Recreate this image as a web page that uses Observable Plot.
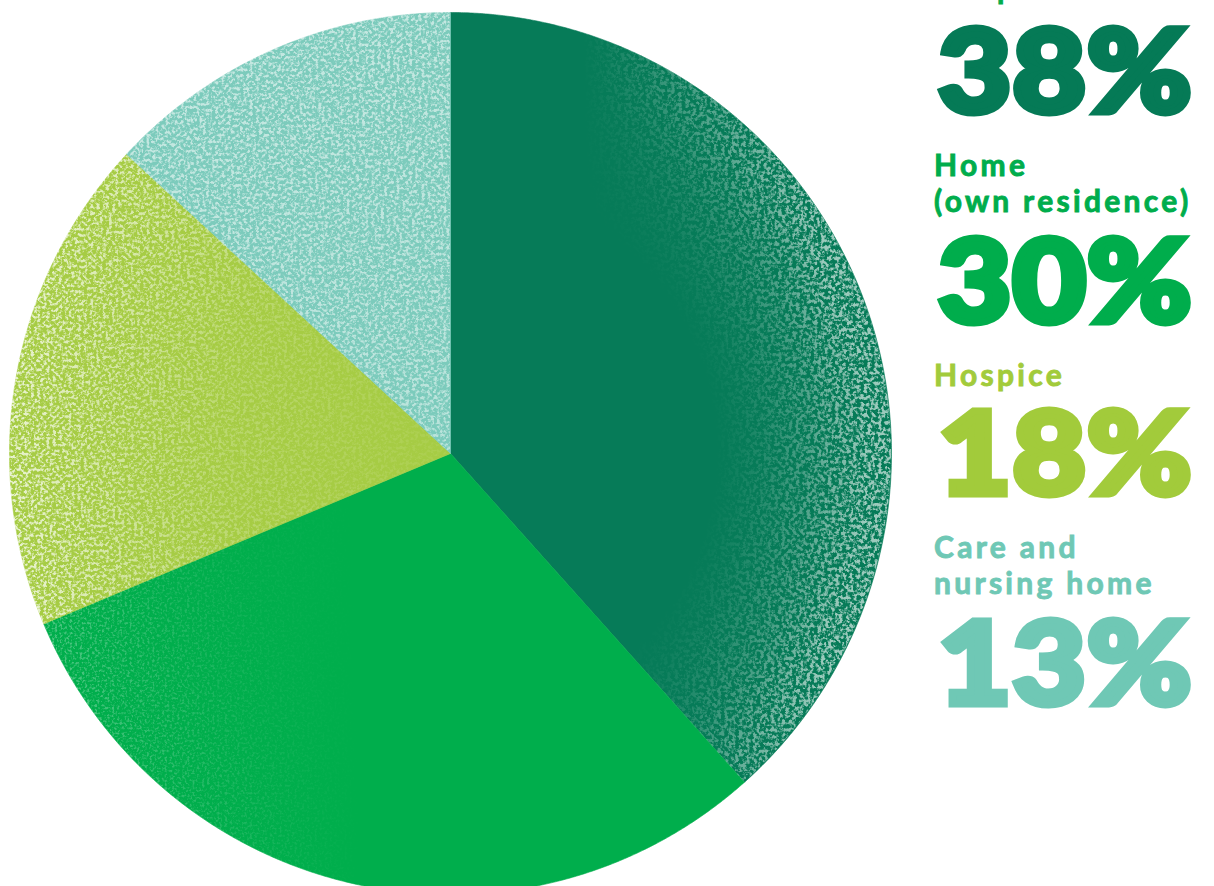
<!DOCTYPE html>
<html>
<head>
<meta charset="utf-8">
<script src="https://cdn.jsdelivr.net/npm/d3@7"></script>
<script src="https://cdn.jsdelivr.net/npm/@observablehq/plot@0.6"></script>
<style>
  html, body { margin: 0; padding: 0; background: #fff; overflow: hidden; }
  #wrap { position: relative; width: 1214px; height: 886px; }
  #chart { position: absolute; left: 0; top: 0; }
  .lbl { position: absolute; left: 934px; font-family: "Lato", "Noto Sans", sans-serif; font-weight: 700; font-size: 30px; line-height: 36px; white-space: nowrap; letter-spacing: 3.3px; -webkit-text-stroke: 0.9px currentColor; }
  .num { position: absolute; left: 938px; font-family: "Lato", "Noto Sans", sans-serif; font-weight: 900; font-size: 115px; line-height: 115px; white-space: nowrap; letter-spacing: 1px; -webkit-text-stroke: 7px currentColor; transform: scaleX(1.1); transform-origin: 0 0; }
</style>
</head>
<body>
<div id="wrap"><div id="chart"></div></div>
<script>
// ---- data ----
const categories = ["Hospital", "Home (own residence)", "Hospice", "Care and nursing home"];
const labelLines = [["Hospital"], ["Home", "(own residence)"], ["Hospice"], ["Care and", "nursing home"]];
const values = [38, 30, 18, 13];
const valueLabels = ["38%", "30%", "18%", "13%"];
const pieColors = ["#067b58", "#00ae4c", "#a6cc44", "#7ccbbc"];
const textColors = ["#057a56", "#00ad4c", "#a2cb3b", "#6fc8b5"];

// ---- build slice polygons from the data via d3.pie ----
const arcs = d3.pie().sort(null).value(d => d)(values);
const slicePts = [];
arcs.forEach((a, i) => {
  const key = categories[i];
  slicePts.push({key, x: 0, y: 0});
  const n = Math.max(8, Math.ceil((a.endAngle - a.startAngle) / 0.005));
  for (let k = 0; k <= n; k++) {
    const t = a.startAngle + (a.endAngle - a.startAngle) * k / n;
    slicePts.push({key, x: Math.sin(t), y: Math.cos(t)});
  }
  slicePts.push({key, x: 0, y: 0});
});

const plot = Plot.plot({
  width: 1214,
  height: 886,
  x: {domain: [-1, 1], range: [9, 891], axis: null},
  y: {domain: [-1, 1], range: [894, 12], axis: null},
  color: {domain: categories, range: pieColors},
  marks: [
    Plot.line(slicePts, {x: "x", y: "y", z: "key", fill: "key", stroke: "key", strokeWidth: 0.6, curve: "linear"})
  ]
});
document.getElementById("chart").appendChild(plot);

// ---- grain texture (style only): white speckle overlays clipped to each slice ----
const svg = d3.select(plot);
const cx = plot.scale("x").apply(0), cy = plot.scale("y").apply(0);
const R = plot.scale("x").apply(1) - cx;
const defs = svg.insert("defs", ":first-child");
function speckFilter(id, freq, oct, k, b, seed) {
  const f = defs.append("filter").attr("id", id).attr("x", "-5%").attr("y", "-5%").attr("width", "110%").attr("height", "110%");
  f.append("feTurbulence").attr("type", "fractalNoise").attr("baseFrequency", freq).attr("numOctaves", oct).attr("seed", seed).attr("result", "n");
  f.append("feColorMatrix").attr("in", "n").attr("type", "matrix")
    .attr("values", `0 0 0 0 1  0 0 0 0 1  0 0 0 0 1  ${k} 0 0 0 ${b}`).attr("result", "w");
  f.append("feComposite").attr("in", "w").attr("in2", "SourceAlpha").attr("operator", "in");
}
speckFilter("speckA", 0.28, 3, 5, -2.15, 3);
speckFilter("speckB", 0.32, 3, 4.5, -2.0, 11);
speckFilter("speckC", 0.4, 2, 4, -1.9, 17);

function mask(id, grad) {
  const m = defs.append("mask").attr("id", id).attr("maskUnits", "userSpaceOnUse")
    .attr("x", 0).attr("y", 0).attr("width", 1214).attr("height", 900);
  m.append("rect").attr("x", 0).attr("y", 0).attr("width", 1214).attr("height", 900).attr("fill", `url(#${grad})`);
}
function radialGrad(id, stops) {
  const g = defs.append("radialGradient").attr("id", id).attr("gradientUnits", "userSpaceOnUse")
    .attr("cx", cx).attr("cy", cy).attr("r", R);
  stops.forEach(([o, v]) => g.append("stop").attr("offset", o).attr("stop-color", "#fff").attr("stop-opacity", v));
}
function linearGrad(id, x1, x2, stops) {
  const g = defs.append("linearGradient").attr("id", id).attr("gradientUnits", "userSpaceOnUse")
    .attr("x1", x1).attr("x2", x2).attr("y1", 0).attr("y2", 0);
  stops.forEach(([o, v]) => g.append("stop").attr("offset", o).attr("stop-color", "#fff").attr("stop-opacity", v));
}
radialGrad("gEdge", [[0, 0], [0.6, 0], [0.82, 0.55], [0.95, 1], [1, 1]]);
radialGrad("gSoft", [[0, 0.3], [0.5, 0.45], [0.85, 0.9], [1, 1]]);
radialGrad("gFull", [[0, 0.85], [1, 1]]);
linearGrad("gRight", cx + 0.3 * R, cx + 0.85 * R, [[0, 0], [1, 1]]);
linearGrad("gLeft", cx - R, cx, [[0, 1], [0.6, 0.6], [1, 0.25]]);
linearGrad("gLeftFar", cx - R, cx - 0.2 * R, [[0, 1], [1, 0]]);
mask("mEdge", "gEdge"); mask("mSoft", "gSoft"); mask("mFull", "gFull");
mask("mRight", "gRight"); mask("mLeft", "gLeft"); mask("mLeftFar", "gLeftFar");

const slicePaths = svg.selectAll("g[aria-label='line'] path").nodes();
// [filter, masks, opacity] per slice (texture intensity only)
const texture = [
  ["speckA", ["mEdge", "mRight"], 0.6],
  ["speckC", ["mSoft", "mLeftFar"], 0.35],
  ["speckB", ["mSoft", "mLeft"], 0.75],
  ["speckB", ["mFull"], 0.55]
];
const overlay = svg.append("g").attr("class", "grain").style("pointer-events", "none");
slicePaths.forEach((p, i) => {
  const [flt, masks, op] = texture[i];
  const c = p.cloneNode();
  c.setAttribute("fill", "#fff");
  c.setAttribute("stroke", "none");
  let g = overlay.append("g").attr("opacity", op);
  masks.forEach(m => { g = g.append("g").attr("mask", `url(#${m})`); });
  g.append("g").attr("filter", `url(#${flt})`).node().appendChild(c);
});

// ---- legend text ----
const wrap = document.getElementById("wrap");
const labelTops = [[-30.6], [146.4, 182.4], [356.4], [528.4, 564.4]];
const numTops = [9.5, 219.5, 391.5, 601.5];
categories.forEach((c, i) => {
  labelLines[i].forEach((line, j) => {
    const d = document.createElement("div");
    d.className = "lbl";
    d.style.top = labelTops[i][j] + "px";
    d.style.color = textColors[i === 0 ? 1 : i];
    d.textContent = line;
    wrap.appendChild(d);
  });
  const n = document.createElement("div");
  n.className = "num";
  n.style.top = numTops[i] + "px";
  n.style.color = textColors[i];
  n.textContent = valueLabels[i];
  wrap.appendChild(n);
});
</script>
</body>
</html>
